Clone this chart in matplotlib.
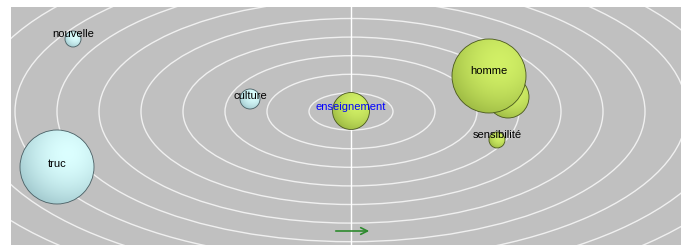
import numpy as np
import matplotlib
matplotlib.use('Agg')
import matplotlib.pyplot as plt
from matplotlib.patches import Ellipse, Circle, Rectangle

# Words (label, centre x, centre y, radius, colour group, label colour)
words = ['nouvelle', 'truc', 'culture', 'enseignement', '', 'homme', 'sensibilité']
word_x = [73, 57, 250, 351, 508, 489, 497]
word_y = [39, 167, 99, 111, 97, 76, 140]
word_r = [8, 37, 10, 18.5, 21, 37, 8]
word_group = ['blue', 'blue', 'blue', 'green', 'green', 'green', 'green']
label_color = ['black', 'black', 'black', '#0000ff', 'black', 'black', 'black']
label_dy = [-5, -3, -3, -4, 0, -5, -5]

# Orbit rings around the centre
centre_x, centre_y = 351, 111.5
ring_a, ring_b = 42, 18.6
n_rings = 12

palette = {
    'blue': (np.array([0.86, 1.0, 1.0]), np.array([0.52, 0.68, 0.71])),
    'green': (np.array([0.82, 0.94, 0.40]), np.array([0.52, 0.63, 0.20])),
}

W, H = 681, 245
fig = plt.figure(figsize=(W / 100, H / 100), dpi=100)
ax = fig.add_axes([0, 0, 1, 1])
ax.set_xlim(0, W)
ax.set_ylim(H, 0)
ax.axis('off')

panel = Rectangle((11, 7), W - 11, H - 7, facecolor='#c0c0c0', edgecolor='none', zorder=0)
ax.add_patch(panel)

for k in range(1, n_rings + 1):
    e = Ellipse((centre_x, centre_y), 2 * ring_a * k, 2 * ring_b * k, fill=False,
                edgecolor='#f0f0f0', linewidth=1.0, zorder=1)
    ax.add_patch(e)
    e.set_clip_path(panel)
ax.plot([centre_x, centre_x], [7, H], color='white', linewidth=1.0, zorder=1)

# shaded spheres
n = 120
u, v = np.meshgrid(np.linspace(-1, 1, n), np.linspace(-1, 1, n))
d = np.sqrt((u - 0.3) ** 2 + (v + 0.35) ** 2) / 1.85
d = np.clip(d, 0, 1) ** 1.8
for i in range(len(words)):
    hi, lo = palette[word_group[i]]
    img = hi[None, None, :] * (1 - d[..., None]) + lo[None, None, :] * d[..., None]
    x, y, r = word_x[i], word_y[i], word_r[i]
    im = ax.imshow(img, extent=(x - r, x + r, y + r, y - r), origin='upper',
                   zorder=2 + i, interpolation='bilinear')
    c = Circle((x, y), r, facecolor='none', edgecolor=lo * 0.55, linewidth=0.6, zorder=2 + i)
    ax.add_patch(c)
    im.set_clip_path(Circle((x, y), r, transform=ax.transData))
    if words[i]:
        ax.text(x, y + label_dy[i], words[i], ha='center', va='center', fontsize=8,
                family='Liberation Sans', color=label_color[i], zorder=20)

ax.set_xlim(0, W)
ax.set_ylim(H, 0)

ax.annotate('', xy=(372, 231), xytext=(333, 231),
            arrowprops=dict(arrowstyle='->', color='#2e8b2e', linewidth=1.2,
                            mutation_scale=12), zorder=21)

fig.savefig('out.png', dpi=100, facecolor='white')
